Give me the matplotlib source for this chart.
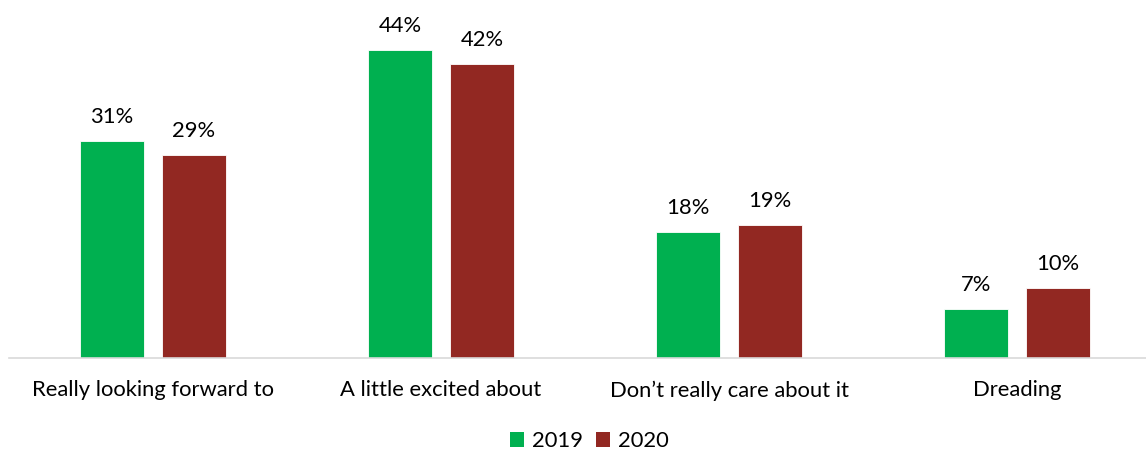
import matplotlib.pyplot as plt
import numpy as np
from matplotlib.patches import Patch

plt.rcParams['font.family'] = ['Lato', 'DejaVu Sans']

categories = ['Really looking forward to', 'A little excited about',
              'Don\u2019t really care about it', 'Dreading']
years = ['2019', '2020']
vals_2019 = [31, 44, 18, 7]
vals_2020 = [29, 42, 19, 10]
colors = ['#00B050', '#922822']

W, H = 1146, 451
fs = 15.8
fig = plt.figure(figsize=(W / 100, H / 100), dpi=100)
# category slots are 288 px wide; the axis runs a little past the right edge
ax = fig.add_axes([9 / W, (H - 358) / H, 1152 / W, 350 / H])

x = np.arange(len(categories))
bw = 64 / 288
off = 41 / 288
for vals, col, dx in zip([vals_2019, vals_2020], colors, [-off, off]):
    bars = ax.bar(x + dx, vals, width=bw, color=col, edgecolor='white', linewidth=0.6)
    for b, v in zip(bars, vals):
        ax.annotate(f'{v}%', (b.get_x() + b.get_width() / 2, v),
                    xytext=(0, 10), textcoords='offset points',
                    ha='center', va='bottom', fontsize=fs, color='#000000')

ax.set_xlim(-0.5, len(categories) - 0.5)
ax.set_ylim(0, 50)
for s in ['top', 'right', 'left']:
    ax.spines[s].set_visible(False)
ax.spines['bottom'].set_color('#d9d9d9')
ax.spines['bottom'].set_linewidth(1.2)
ax.set_yticks([])
ax.set_xticks(x)
ax.set_xticklabels(categories, fontsize=fs)
ax.tick_params(axis='x', length=0, pad=16)

handles = [Patch(facecolor=c, label=y) for c, y in zip(colors, years)]
fig.legend(handles=handles, loc='center', bbox_to_anchor=(589 / W, (H - 441) / H),
           ncol=2, frameon=False, fontsize=fs, handlelength=0.65, handleheight=0.65,
           handletextpad=0.35, columnspacing=0.6)

fig.savefig('out.png', dpi=100)
